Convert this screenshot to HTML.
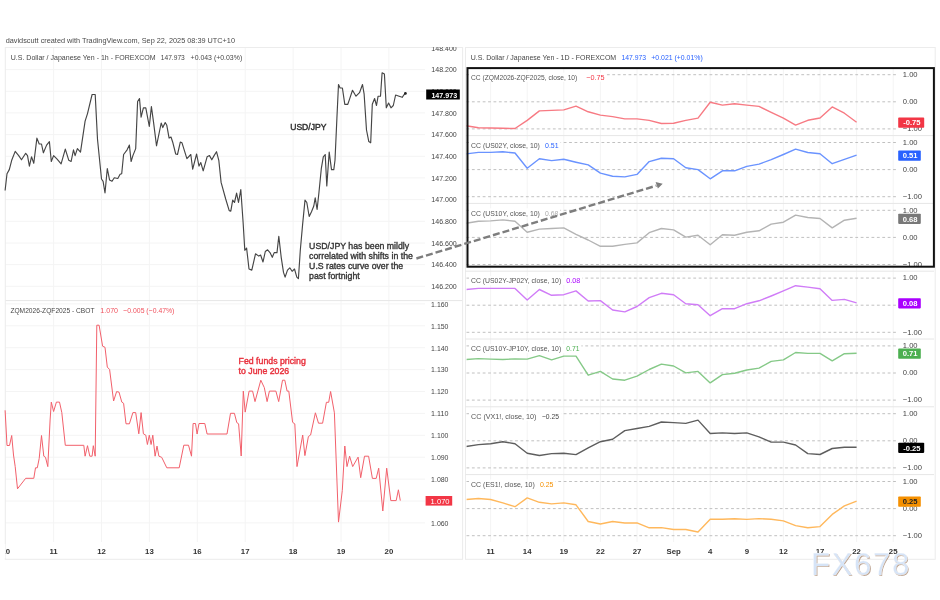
<!DOCTYPE html><html><head><meta charset="utf-8"><title>USD/JPY correlation</title>
<style>html,body{margin:0;padding:0;background:#fff;}body{width:940px;height:600px;overflow:hidden;}svg{display:block;filter:blur(0.3px);}text{font-family:"Liberation Sans", sans-serif;}</style></head><body>
<svg width="940" height="600" viewBox="0 0 940 600">
<rect x="0" y="0" width="940" height="600" fill="#ffffff"/>
<text x="5.7" y="43.1" font-size="7.9" fill="#4a4a4a" textLength="229.3" lengthAdjust="spacingAndGlyphs">davidscutt created with TradingView.com, Sep 22, 2025 08:39 UTC+10</text>
<g stroke="#f4f4f4" stroke-width="1">
<line x1="53.6" y1="47.5" x2="53.6" y2="542"/>
<line x1="101.5" y1="47.5" x2="101.5" y2="542"/>
<line x1="149.4" y1="47.5" x2="149.4" y2="542"/>
<line x1="197.3" y1="47.5" x2="197.3" y2="542"/>
<line x1="245.2" y1="47.5" x2="245.2" y2="542"/>
<line x1="293.1" y1="47.5" x2="293.1" y2="542"/>
<line x1="341.0" y1="47.5" x2="341.0" y2="542"/>
<line x1="388.9" y1="47.5" x2="388.9" y2="542"/>
<line x1="5.3" y1="69.6" x2="425" y2="69.6"/>
<line x1="5.3" y1="91.3" x2="425" y2="91.3"/>
<line x1="5.3" y1="112.9" x2="425" y2="112.9"/>
<line x1="5.3" y1="134.6" x2="425" y2="134.6"/>
<line x1="5.3" y1="156.3" x2="425" y2="156.3"/>
<line x1="5.3" y1="177.9" x2="425" y2="177.9"/>
<line x1="5.3" y1="199.6" x2="425" y2="199.6"/>
<line x1="5.3" y1="221.3" x2="425" y2="221.3"/>
<line x1="5.3" y1="243.0" x2="425" y2="243.0"/>
<line x1="5.3" y1="264.6" x2="425" y2="264.6"/>
<line x1="5.3" y1="286.3" x2="425" y2="286.3"/>
<line x1="5.3" y1="303.9" x2="425" y2="303.9"/>
<line x1="5.3" y1="325.8" x2="425" y2="325.8"/>
<line x1="5.3" y1="347.7" x2="425" y2="347.7"/>
<line x1="5.3" y1="369.6" x2="425" y2="369.6"/>
<line x1="5.3" y1="391.5" x2="425" y2="391.5"/>
<line x1="5.3" y1="413.4" x2="425" y2="413.4"/>
<line x1="5.3" y1="435.3" x2="425" y2="435.3"/>
<line x1="5.3" y1="457.2" x2="425" y2="457.2"/>
<line x1="5.3" y1="479.1" x2="425" y2="479.1"/>
<line x1="5.3" y1="501.0" x2="425" y2="501.0"/>
<line x1="5.3" y1="522.9" x2="425" y2="522.9"/>
</g>
<line x1="5.3" y1="300.6" x2="462.6" y2="300.6" stroke="#e6e6e6" stroke-width="1"/>
<rect x="5.3" y="47.5" width="457.3" height="511.8" fill="none" stroke="#ececec" stroke-width="1"/>
<text x="10.7" y="60.2" font-size="7.90" fill="#474747" textLength="144.9" lengthAdjust="spacingAndGlyphs">U.S. Dollar / Japanese Yen - 1h - FOREXCOM</text>
<text x="160.8" y="60.2" font-size="7.90" fill="#474747" textLength="24.0" lengthAdjust="spacingAndGlyphs">147.973</text>
<text x="190.6" y="60.2" font-size="7.90" fill="#474747" textLength="51.6" lengthAdjust="spacingAndGlyphs">+0.043 (+0.03%)</text>
<text x="10.4" y="313.2" font-size="7.90" fill="#474747" textLength="84.1" lengthAdjust="spacingAndGlyphs">ZQM2026-ZQF2025 - CBOT</text>
<text x="100.3" y="313.2" font-size="7.90" fill="#f0505c" textLength="17.7" lengthAdjust="spacingAndGlyphs">1.070</text>
<text x="123.3" y="313.2" font-size="7.90" fill="#f0505c" textLength="51.1" lengthAdjust="spacingAndGlyphs">−0.005 (−0.47%)</text>
<g font-size="7.6" fill="#444">
<text x="431.3" y="50.7" textLength="25.5" lengthAdjust="spacingAndGlyphs">148.400</text>
<text x="431.3" y="72.4" textLength="25.5" lengthAdjust="spacingAndGlyphs">148.200</text>
<text x="431.3" y="94.1" textLength="25.5" lengthAdjust="spacingAndGlyphs">148.000</text>
<text x="431.3" y="115.7" textLength="25.5" lengthAdjust="spacingAndGlyphs">147.800</text>
<text x="431.3" y="137.4" textLength="25.5" lengthAdjust="spacingAndGlyphs">147.600</text>
<text x="431.3" y="159.1" textLength="25.5" lengthAdjust="spacingAndGlyphs">147.400</text>
<text x="431.3" y="180.8" textLength="25.5" lengthAdjust="spacingAndGlyphs">147.200</text>
<text x="431.3" y="202.4" textLength="25.5" lengthAdjust="spacingAndGlyphs">147.000</text>
<text x="431.3" y="224.1" textLength="25.5" lengthAdjust="spacingAndGlyphs">146.800</text>
<text x="431.3" y="245.8" textLength="25.5" lengthAdjust="spacingAndGlyphs">146.600</text>
<text x="431.3" y="267.4" textLength="25.5" lengthAdjust="spacingAndGlyphs">146.400</text>
<text x="431.3" y="289.1" textLength="25.5" lengthAdjust="spacingAndGlyphs">146.200</text>
<text x="431.1" y="306.7" textLength="17.4" lengthAdjust="spacingAndGlyphs">1.160</text>
<text x="431.1" y="328.6" textLength="17.4" lengthAdjust="spacingAndGlyphs">1.150</text>
<text x="431.1" y="350.5" textLength="17.4" lengthAdjust="spacingAndGlyphs">1.140</text>
<text x="431.1" y="372.4" textLength="17.4" lengthAdjust="spacingAndGlyphs">1.130</text>
<text x="431.1" y="394.3" textLength="17.4" lengthAdjust="spacingAndGlyphs">1.120</text>
<text x="431.1" y="416.2" textLength="17.4" lengthAdjust="spacingAndGlyphs">1.110</text>
<text x="431.1" y="438.1" textLength="17.4" lengthAdjust="spacingAndGlyphs">1.100</text>
<text x="431.1" y="460.0" textLength="17.4" lengthAdjust="spacingAndGlyphs">1.090</text>
<text x="431.1" y="481.9" textLength="17.4" lengthAdjust="spacingAndGlyphs">1.080</text>
<text x="431.1" y="525.7" textLength="17.4" lengthAdjust="spacingAndGlyphs">1.060</text>
</g>
<rect x="420" y="40" width="45" height="7" fill="#fff"/>
<polyline fill="none" stroke="#454545" stroke-width="1.15" stroke-linejoin="round" points="5.1,190.5 7.0,173.8 9.3,169.6 11.7,160.3 15.2,151.4 18.7,155.6 21.5,159.8 25.7,153.3 27.5,155.6 29.4,166.1 31.5,156.8 33.8,163.3 36.9,138.1 39.2,144.0 41.5,144.0 43.4,152.8 46.6,145.1 49.4,141.6 51.3,161.5 53.6,155.6 57.1,159.1 61.1,163.8 65.3,149.1 68.8,160.3 71.1,161.5 73.5,149.8 75.1,155.6 77.4,148.6 80.5,152.1 85.1,121.1 87.5,113.6 92.1,94.5 95.2,94.5 97.5,139.3 101.5,179.0 103.1,181.3 105.0,193.0 107.3,168.5 109.6,180.1 112.0,181.3 114.3,177.8 117.8,178.5 120.1,174.3 121.7,173.8 123.6,154.5 127.1,149.8 129.4,145.1 131.1,161.5 132.9,155.6 135.7,148.6 137.6,101.5 139.5,98.5 141.1,117.1 143.4,107.8 145.8,107.8 149.3,126.5 151.4,106.6 153.5,121.8 156.5,145.8 161.2,123.0 162.8,127.6 165.2,122.5 166.8,125.3 169.1,138.1 171.0,137.0 172.9,142.8 175.7,154.0 177.5,154.5 180.3,142.1 182.0,142.8 186.9,158.7 190.8,154.5 192.7,169.2 196.6,154.0 199.0,166.1 200.8,162.6 203.2,170.8 207.1,156.8 209.5,155.6 211.8,159.8 214.1,155.6 216.5,151.7 218.8,160.3 221.1,182.4 225.7,199.0 229.2,210.6 230.8,211.1 232.7,200.1 234.5,202.5 236.6,193.1 238.5,202.5 240.8,189.6 243.1,222.3 244.8,250.3 246.6,248.0 249.0,269.0 251.8,270.1 255.5,253.8 258.8,256.1 260.6,255.0 263.0,262.0 265.3,251.5 267.6,249.8 270.0,252.6 272.3,257.3 274.2,252.6 277.0,252.6 278.8,236.3 281.2,257.3 283.5,272.4 285.1,277.1 287.5,270.1 289.8,267.8 292.1,271.3 294.5,269.0 296.8,277.1 298.4,278.7 300.3,250.3 302.6,224.6 305.0,200.1 306.8,202.5 309.2,216.5 311.5,211.8 313.8,206.0 315.2,197.8 317.1,209.5 319.0,192.0 321.3,168.7 323.3,156.8 325.2,154.5 326.8,186.0 329.2,152.1 331.5,169.6 333.8,169.6 335.0,160.3 336.9,118.3 338.5,84.5 340.1,88.0 342.4,88.0 344.8,104.3 347.8,104.3 349.4,99.6 352.5,90.3 356.0,96.2 359.5,92.7 362.5,84.5 364.1,93.8 366.5,130.0 368.8,141.6 370.7,142.8 372.3,104.3 374.6,98.5 376.5,105.5 378.1,96.2 380.5,96.2 382.1,72.8 384.4,74.0 386.3,107.8 388.6,103.1 391.0,107.8 393.3,105.5 395.6,95.0 399.1,96.2 402.2,97.3 403.8,95.0 405.4,93.4"/>
<circle cx="405.4" cy="93.4" r="1.4" fill="#222"/>
<polyline fill="none" stroke="#f2606b" stroke-width="1" stroke-linejoin="round" points="5.1,410.3 7.0,445.5 9.5,445.5 11.7,435.5 13.5,455.0 15.2,466.6 17.5,488.8 25.7,478.3 33.8,478.3 35.5,467.8 37.3,467.8 39.2,458.5 41.5,435.5 43.8,456.2 45.5,457.3 47.8,466.6 50.1,420.0 51.3,402.1 53.6,411.5 56.4,402.1 59.5,402.1 61.8,412.6 65.3,445.3 83.8,445.3 85.1,456.2 87.5,445.7 89.8,456.2 92.1,456.2 93.3,445.7 95.2,456.2 96.8,325.2 99.1,325.2 102.6,346.2 105.0,347.3 107.3,367.1 109.6,369.5 113.6,401.0 116.6,391.6 119.0,392.1 121.8,402.1 123.6,403.3 126.0,423.8 129.4,423.8 132.9,412.6 135.7,412.6 138.8,433.8 141.1,412.6 143.4,433.8 145.8,435.2 147.4,444.5 149.3,435.2 151.1,444.5 152.8,435.2 155.1,456.2 157.0,446.1 158.9,456.2 161.7,457.3 166.8,467.8 179.2,467.8 183.8,445.2 188.5,445.2 191.5,456.2 193.1,423.5 195.5,423.5 197.1,434.0 199.0,423.5 204.8,423.5 207.1,434.0 227.0,434.0 230.5,413.3 234.4,413.3 236.8,422.6 238.6,423.8 241.2,456.0 243.3,391.1 245.2,412.1 249.1,391.1 252.6,391.1 255.0,401.6 260.8,380.2 264.3,387.6 267.1,401.6 269.4,391.1 275.9,391.1 278.7,401.6 282.5,380.2 284.8,380.2 287.1,391.1 288.8,391.1 292.6,422.3 294.8,423.9 297.0,466.6 302.7,435.0 304.9,455.6 308.4,436.5 310.6,435.0 315.4,412.8 318.5,423.2 322.6,423.2 326.4,402.3 328.7,402.3 330.6,391.5 334.4,412.8 338.5,522.1 342.3,490.4 344.8,446.0 347.0,466.6 349.6,456.2 352.7,466.6 358.1,457.1 360.7,477.7 364.5,456.2 368.6,456.2 372.4,478.4 376.2,478.4 378.7,468.2 382.8,511.0 386.7,468.2 390.8,500.6 396.2,500.6 398.4,489.8 400.3,500.6"/>
<rect x="426.2" y="89.5" width="33.6" height="10" fill="#000"/>
<text x="431.4" y="97.6" font-size="7.8" font-weight="bold" fill="#fff" textLength="25.7" lengthAdjust="spacingAndGlyphs">147.973</text>
<rect x="425.6" y="496" width="26.6" height="9.6" fill="#f23645"/>
<text x="430.6" y="503.6" font-size="7.6" fill="#fff">1.070</text>
<g font-size="7.8" font-weight="bold" fill="#333" text-anchor="middle">
<text x="5.7" y="554">10</text>
<text x="53.6" y="554">11</text>
<text x="101.5" y="554">12</text>
<text x="149.4" y="554">13</text>
<text x="197.3" y="554">16</text>
<text x="245.2" y="554">17</text>
<text x="293.1" y="554">18</text>
<text x="341.0" y="554">19</text>
<text x="388.9" y="554">20</text>
</g>
<rect x="0" y="544" width="5.3" height="14" fill="#fff"/>
<text x="290.2" y="129.5" font-size="8.8" fill="#333" stroke="#333" stroke-width="0.45" textLength="36.2" lengthAdjust="spacingAndGlyphs">USD/JPY</text>
<g font-size="8.9" fill="#333" stroke="#333" stroke-width="0.35">
<text x="309.1" y="248.6" textLength="100.1" lengthAdjust="spacingAndGlyphs">USD/JPY has been mildly</text>
<text x="309.1" y="258.6" textLength="103.8" lengthAdjust="spacingAndGlyphs">correlated with shifts in the</text>
<text x="309.1" y="268.6" textLength="94.1" lengthAdjust="spacingAndGlyphs">U.S rates curve over the</text>
<text x="309.1" y="278.6" textLength="50.6" lengthAdjust="spacingAndGlyphs">past fortnight</text>
</g>
<g font-size="8.9" fill="#e8303c" stroke="#e8303c" stroke-width="0.4">
<text x="238.6" y="363.9" textLength="67.2" lengthAdjust="spacingAndGlyphs">Fed funds pricing</text>
<text x="238.6" y="373.9" textLength="50.6" lengthAdjust="spacingAndGlyphs">to June 2026</text>
</g>
<rect x="465.5" y="47.5" width="469.7" height="511.8" fill="none" stroke="#ececec" stroke-width="1"/>
<text x="470.7" y="60.2" font-size="7.90" fill="#474747" textLength="145.5" lengthAdjust="spacingAndGlyphs">U.S. Dollar / Japanese Yen - 1D - FOREXCOM</text>
<text x="621.4" y="60.2" font-size="7.90" fill="#2962ff" textLength="24.7" lengthAdjust="spacingAndGlyphs">147.973</text>
<text x="651.3" y="60.2" font-size="7.90" fill="#2962ff" textLength="51.4" lengthAdjust="spacingAndGlyphs">+0.021 (+0.01%)</text>
<g stroke="#f4f4f4" stroke-width="1">
<line x1="490.6" y1="68" x2="490.6" y2="542"/>
<line x1="527.2" y1="68" x2="527.2" y2="542"/>
<line x1="563.8" y1="68" x2="563.8" y2="542"/>
<line x1="600.4" y1="68" x2="600.4" y2="542"/>
<line x1="637.0" y1="68" x2="637.0" y2="542"/>
<line x1="673.6" y1="68" x2="673.6" y2="542"/>
<line x1="710.2" y1="68" x2="710.2" y2="542"/>
<line x1="746.8" y1="68" x2="746.8" y2="542"/>
<line x1="783.4" y1="68" x2="783.4" y2="542"/>
<line x1="820.0" y1="68" x2="820.0" y2="542"/>
<line x1="856.6" y1="68" x2="856.6" y2="542"/>
<line x1="893.2" y1="68" x2="893.2" y2="542"/>
</g>
<g stroke="#e6e6e6" stroke-width="1">
<line x1="465.5" y1="135.6" x2="934" y2="135.6"/>
<line x1="465.5" y1="203.4" x2="934" y2="203.4"/>
<line x1="465.5" y1="271.2" x2="934" y2="271.2"/>
<line x1="465.5" y1="339.0" x2="934" y2="339.0"/>
<line x1="465.5" y1="406.8" x2="934" y2="406.8"/>
<line x1="465.5" y1="474.6" x2="934" y2="474.6"/>
</g>
<g stroke="#c0c0c0" stroke-width="1" stroke-dasharray="2.8 2.6">
<line x1="466.5" y1="74.7" x2="897.5" y2="74.7"/>
<line x1="466.5" y1="101.8" x2="897.5" y2="101.8"/>
<line x1="466.5" y1="128.9" x2="897.5" y2="128.9"/>
<line x1="466.5" y1="142.5" x2="897.5" y2="142.5"/>
<line x1="466.5" y1="169.6" x2="897.5" y2="169.6"/>
<line x1="466.5" y1="196.7" x2="897.5" y2="196.7"/>
<line x1="466.5" y1="210.3" x2="897.5" y2="210.3"/>
<line x1="466.5" y1="237.4" x2="897.5" y2="237.4"/>
<line x1="466.5" y1="264.5" x2="897.5" y2="264.5"/>
<line x1="466.5" y1="278.1" x2="897.5" y2="278.1"/>
<line x1="466.5" y1="305.2" x2="897.5" y2="305.2"/>
<line x1="466.5" y1="332.3" x2="897.5" y2="332.3"/>
<line x1="466.5" y1="345.9" x2="897.5" y2="345.9"/>
<line x1="466.5" y1="373.0" x2="897.5" y2="373.0"/>
<line x1="466.5" y1="400.1" x2="897.5" y2="400.1"/>
<line x1="466.5" y1="413.7" x2="897.5" y2="413.7"/>
<line x1="466.5" y1="440.8" x2="897.5" y2="440.8"/>
<line x1="466.5" y1="467.9" x2="897.5" y2="467.9"/>
<line x1="466.5" y1="481.5" x2="897.5" y2="481.5"/>
<line x1="466.5" y1="508.6" x2="897.5" y2="508.6"/>
<line x1="466.5" y1="535.7" x2="897.5" y2="535.7"/>
</g>
<g font-size="7.6" fill="#444">
<text x="902.8" y="77.0">1.00</text>
<text x="902.8" y="104.1">0.00</text>
<text x="902.8" y="131.2">−1.00</text>
<text x="902.8" y="144.8">1.00</text>
<text x="902.8" y="171.9">0.00</text>
<text x="902.8" y="199.0">−1.00</text>
<text x="902.8" y="212.6">1.00</text>
<text x="902.8" y="239.7">0.00</text>
<text x="902.8" y="266.8">−1.00</text>
<text x="902.8" y="280.4">1.00</text>
<text x="902.8" y="307.5">0.00</text>
<text x="902.8" y="334.6">−1.00</text>
<text x="902.8" y="348.2">1.00</text>
<text x="902.8" y="375.3">0.00</text>
<text x="902.8" y="402.4">−1.00</text>
<text x="902.8" y="416.0">1.00</text>
<text x="902.8" y="443.1">0.00</text>
<text x="902.8" y="470.2">−1.00</text>
<text x="902.8" y="483.8">1.00</text>
<text x="902.8" y="510.9">0.00</text>
<text x="902.8" y="538.0">−1.00</text>
</g>
<defs><clipPath id="rc"><rect x="466.5" y="60" width="431.5" height="490"/></clipPath></defs>
<g clip-path="url(#rc)">
<polyline fill="none" stroke="#f77a83" stroke-width="1.4" stroke-linejoin="round" points="466.2,125.8 478.4,127.7 490.6,128.0 502.8,128.3 515.0,128.5 527.2,120.4 539.4,110.9 551.6,110.4 563.8,109.9 576.0,106.1 588.2,111.8 600.4,115.1 612.6,116.6 624.8,118.9 637.0,118.9 649.2,120.4 661.4,123.5 673.6,123.3 685.8,120.4 698.0,118.1 710.2,102.2 722.4,105.1 734.6,103.8 746.8,105.1 759.0,106.4 771.2,112.4 783.4,118.1 795.6,125.1 807.8,120.3 820.0,118.0 832.2,106.9 844.4,113.2 856.6,122.2"/>
<polyline fill="none" stroke="#6a93ff" stroke-width="1.4" stroke-linejoin="round" points="466.2,153.9 478.4,152.4 490.6,152.4 502.8,151.8 515.0,153.0 527.2,168.3 539.4,158.7 551.6,160.6 563.8,159.3 576.0,162.2 588.2,164.9 600.4,173.1 612.6,176.3 624.8,176.9 637.0,174.4 649.2,161.6 661.4,158.3 673.6,158.7 685.8,167.7 698.0,169.6 710.2,178.8 722.4,170.8 734.6,170.8 746.8,166.4 759.0,164.1 771.2,159.7 783.4,154.5 795.6,149.1 807.8,152.5 820.0,153.8 832.2,163.7 844.4,159.3 856.6,155.2"/>
<polyline fill="none" stroke="#b4b4b4" stroke-width="1.4" stroke-linejoin="round" points="466.2,223.3 478.4,221.2 490.6,220.9 502.8,219.9 515.0,221.2 527.2,232.3 539.4,229.1 551.6,228.5 563.8,227.9 576.0,234.3 588.2,240.0 600.4,246.3 612.6,246.3 624.8,244.4 637.0,242.9 649.2,232.7 661.4,228.5 673.6,229.9 685.8,237.1 698.0,235.2 710.2,244.8 722.4,234.8 734.6,235.2 746.8,232.3 759.0,230.8 771.2,224.1 783.4,222.2 795.6,215.1 807.8,217.5 820.0,218.5 832.2,227.9 844.4,220.2 856.6,218.3"/>
<polyline fill="none" stroke="#d07cf7" stroke-width="1.4" stroke-linejoin="round" points="466.2,289.5 478.4,288.4 490.6,288.4 502.8,288.4 515.0,288.4 527.2,300.0 539.4,289.5 551.6,295.3 563.8,294.7 576.0,290.9 588.2,301.0 600.4,300.6 612.6,310.0 624.8,311.9 637.0,306.5 649.2,297.6 661.4,293.3 673.6,294.7 685.8,303.7 698.0,304.8 710.2,315.7 722.4,308.7 734.6,308.7 746.8,303.7 759.0,300.8 771.2,296.0 783.4,290.9 795.6,285.7 807.8,287.1 820.0,288.8 832.2,300.4 844.4,299.4 856.6,302.8"/>
<polyline fill="none" stroke="#85c987" stroke-width="1.4" stroke-linejoin="round" points="466.2,359.5 478.4,358.6 490.6,359.1 502.8,359.5 515.0,358.9 527.2,359.1 539.4,355.7 551.6,359.9 563.8,356.1 576.0,356.1 588.2,375.2 600.4,371.4 612.6,379.0 624.8,380.2 637.0,376.2 649.2,369.5 661.4,364.1 673.6,366.0 685.8,372.9 698.0,371.4 710.2,382.9 722.4,374.6 734.6,373.3 746.8,370.0 759.0,368.1 771.2,361.4 783.4,359.9 795.6,352.5 807.8,353.4 820.0,353.4 832.2,360.9 844.4,353.7 856.6,353.2"/>
<polyline fill="none" stroke="#5e5e5e" stroke-width="1.4" stroke-linejoin="round" points="466.2,446.5 478.4,444.6 490.6,443.7 502.8,441.7 515.0,443.7 527.2,453.2 539.4,455.5 551.6,453.6 563.8,453.2 576.0,454.6 588.2,447.9 600.4,441.7 612.6,439.3 624.8,430.6 637.0,428.5 649.2,426.4 661.4,422.0 673.6,422.6 685.8,423.4 698.0,420.1 710.2,433.5 722.4,432.9 734.6,433.5 746.8,432.9 759.0,436.8 771.2,442.1 783.4,442.1 795.6,445.0 807.8,453.6 820.0,454.5 832.2,448.5 844.4,447.3 856.6,447.3"/>
<polyline fill="none" stroke="#ffb85c" stroke-width="1.4" stroke-linejoin="round" points="466.2,499.5 478.4,498.5 490.6,499.5 502.8,502.9 515.0,506.7 527.2,497.9 539.4,502.3 551.6,503.9 563.8,502.9 576.0,504.8 588.2,521.5 600.4,524.0 612.6,521.5 624.8,523.0 637.0,522.9 649.2,527.8 661.4,527.6 673.6,529.5 685.8,529.5 698.0,532.0 710.2,519.2 722.4,519.2 734.6,518.8 746.8,519.4 759.0,518.6 771.2,519.2 783.4,520.9 795.6,525.6 807.8,527.7 820.0,526.6 832.2,514.4 844.4,505.9 856.6,501.1"/>
</g>
<rect x="469" y="72.7" width="137.6" height="9" fill="#fff"/>
<text x="471.0" y="80.0" font-size="7.50" fill="#555" textLength="106.3" lengthAdjust="spacingAndGlyphs">CC (ZQM2026-ZQF2025, close, 10)</text>
<text x="586.2" y="80.0" font-size="7.50" fill="#f23645" textLength="18.4" lengthAdjust="spacingAndGlyphs">−0.75</text>
<rect x="469" y="140.5" width="91.6" height="9" fill="#fff"/>
<text x="471.0" y="147.8" font-size="7.50" fill="#555" textLength="68.9" lengthAdjust="spacingAndGlyphs">CC (US02Y, close, 10)</text>
<text x="545.0" y="147.8" font-size="7.50" fill="#2962ff" textLength="13.6" lengthAdjust="spacingAndGlyphs">0.51</text>
<rect x="469" y="208.3" width="91.3" height="9" fill="#fff"/>
<text x="471.0" y="215.6" font-size="7.50" fill="#555" textLength="68.9" lengthAdjust="spacingAndGlyphs">CC (US10Y, close, 10)</text>
<text x="545.0" y="215.6" font-size="7.50" fill="#aaa" textLength="13.3" lengthAdjust="spacingAndGlyphs">0.68</text>
<rect x="469" y="276.1" width="113.4" height="9" fill="#fff"/>
<text x="471.0" y="283.4" font-size="7.50" fill="#555" textLength="90.2" lengthAdjust="spacingAndGlyphs">CC (US02Y-JP02Y, close, 10)</text>
<text x="566.3" y="283.4" font-size="7.50" fill="#aa00ff" textLength="14.1" lengthAdjust="spacingAndGlyphs">0.08</text>
<rect x="469" y="343.9" width="112.4" height="9" fill="#fff"/>
<text x="471.0" y="351.2" font-size="7.50" fill="#555" textLength="90.2" lengthAdjust="spacingAndGlyphs">CC (US10Y-JP10Y, close, 10)</text>
<text x="566.3" y="351.2" font-size="7.50" fill="#4caf50" textLength="13.1" lengthAdjust="spacingAndGlyphs">0.71</text>
<rect x="469" y="411.7" width="92.0" height="9" fill="#fff"/>
<text x="471.0" y="419.0" font-size="7.50" fill="#555" textLength="65.5" lengthAdjust="spacingAndGlyphs">CC (VX1!, close, 10)</text>
<text x="541.9" y="419.0" font-size="7.50" fill="#444" textLength="17.1" lengthAdjust="spacingAndGlyphs">−0.25</text>
<rect x="469" y="479.5" width="86.5" height="9" fill="#fff"/>
<text x="471.0" y="486.8" font-size="7.50" fill="#555" textLength="63.8" lengthAdjust="spacingAndGlyphs">CC (ES1!, close, 10)</text>
<text x="539.9" y="486.8" font-size="7.50" fill="#f59000" textLength="13.6" lengthAdjust="spacingAndGlyphs">0.25</text>
<rect x="898.2" y="117.6" width="26.0" height="10.2" rx="0.8" fill="#f23645"/>
<text x="911.8" y="125.4" font-size="7.6" font-weight="bold" fill="#ffffff" text-anchor="middle">-0.75</text>
<rect x="898.2" y="150.6" width="22.6" height="10.2" rx="0.8" fill="#2962ff"/>
<text x="910.1" y="158.4" font-size="7.6" font-weight="bold" fill="#ffffff" text-anchor="middle">0.51</text>
<rect x="898.2" y="213.7" width="22.6" height="10.2" rx="0.8" fill="#787878"/>
<text x="910.1" y="221.5" font-size="7.6" font-weight="bold" fill="#ffffff" text-anchor="middle">0.68</text>
<rect x="898.2" y="298.2" width="22.6" height="10.2" rx="0.8" fill="#aa00ff"/>
<text x="910.1" y="306.0" font-size="7.6" font-weight="bold" fill="#ffffff" text-anchor="middle">0.08</text>
<rect x="898.2" y="348.6" width="22.6" height="10.2" rx="0.8" fill="#4caf50"/>
<text x="910.1" y="356.4" font-size="7.6" font-weight="bold" fill="#ffffff" text-anchor="middle">0.71</text>
<rect x="898.2" y="442.7" width="26.0" height="10.2" rx="0.8" fill="#000000"/>
<text x="911.8" y="450.5" font-size="7.6" font-weight="bold" fill="#ffffff" text-anchor="middle">-0.25</text>
<rect x="898.2" y="496.5" width="22.6" height="10.2" rx="0.8" fill="#f59000"/>
<text x="910.1" y="504.3" font-size="7.6" font-weight="bold" fill="#222222" text-anchor="middle">0.25</text>
<rect x="467.5" y="68.1" width="466.4" height="198.6" fill="none" stroke="#111" stroke-width="2"/>
<g font-size="7.8" fill="#333" font-weight="bold" text-anchor="middle">
<text x="490.6" y="553.6">11</text>
<text x="527.2" y="553.6">14</text>
<text x="563.8" y="553.6">19</text>
<text x="600.4" y="553.6">22</text>
<text x="637.0" y="553.6">27</text>
<text x="673.6" y="553.6" font-weight="bold">Sep</text>
<text x="710.2" y="553.6">4</text>
<text x="746.8" y="553.6">9</text>
<text x="783.4" y="553.6">12</text>
<text x="820.0" y="553.6">17</text>
<text x="856.6" y="553.6">22</text>
<text x="893.2" y="553.6">25</text>
</g>
<line x1="416.4" y1="258.5" x2="656.5" y2="185.6" stroke="#7d7d7d" stroke-width="2.4" stroke-dasharray="7 3"/>
<polygon points="662.7,183.7 655.6,182.0 657.9,188.6" fill="#7d7d7d"/>
<g font-size="31" letter-spacing="1.7">
<text x="811.9" y="576.1" fill="#b0927c" opacity="0.85">FX678</text>
<text x="811.0" y="575.1" fill="#d6e4f7" stroke="#ffffff" stroke-width="0.25">FX678</text>
</g>
</svg></body></html>
